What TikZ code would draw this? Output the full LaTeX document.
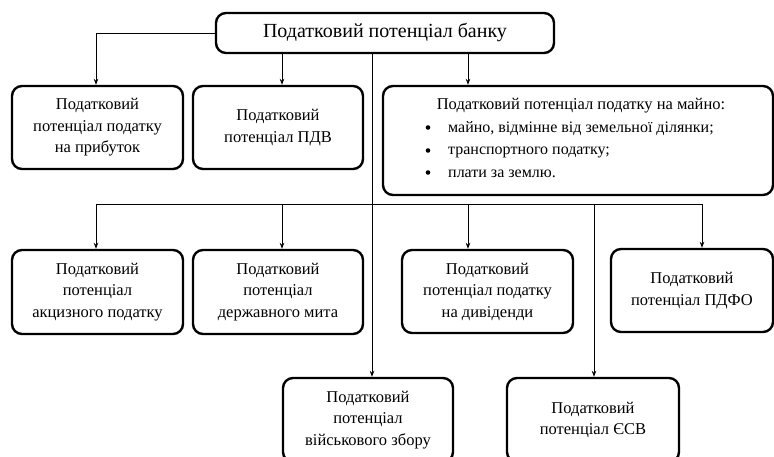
\documentclass[tikz,border=0pt]{standalone}
\usepackage{fontspec}
\setmainfont{Liberation Serif}
\usetikzlibrary{arrows.meta}
\begin{document}
\begin{tikzpicture}[x=1pt,y=-1pt,
  box/.style={draw, line width=2.4pt, rounded corners=10pt, align=center, inner sep=0pt,
    font=\fontsize{16.5}{21.5}\selectfont},
  txt/.style={inner sep=0pt, font=\fontsize{16.5}{21.5}\selectfont},
  itm/.style={inner sep=0pt, anchor=west, font=\fontsize{16}{21}\selectfont},
  dot/.style={circle, fill, inner sep=0pt, minimum size=4.6pt},
  conn/.style={line width=0.8pt},
  arr/.style={conn, -{Stealth[length=6pt,width=4.5pt]}}]
\useasboundingbox (0,0) rectangle (774,457);
\clip (0,0) rectangle (774,457);

\node[box, minimum width=338pt, minimum height=40pt, font=\fontsize{20}{24}\selectfont] (top) at (385,33) {Податковий потенціал банку};

\node[box, minimum width=171pt, minimum height=83pt] (b1) at (97.5,127.5) {Податковий\\потенціал податку\\на прибуток};
\node[box, minimum width=170pt, minimum height=83pt] (b2) at (278,127.5) {Податковий\\потенціал ПДВ};
\node[box, minimum width=390pt, minimum height=109pt] (b3) at (578,140.5) {};
\node[txt] (h3) at (581,106) {Податковий потенціал податку на майно:};
\node[dot] (d1) at (428,127.5) {};
\node[dot] (d2) at (428,150.5) {};
\node[dot] (d3) at (428,172.5) {};
\node[itm] (i1) at (448,129) {майно, відмінне від земельної ділянки;};
\node[itm] (i2) at (448,152) {транспортного податку;};
\node[itm] (i3) at (448,174) {плати за землю.};

\node[box, minimum width=171pt, minimum height=84pt] (b4) at (97.5,292) {Податковий\\потенціал\\акцизного податку};
\node[box, minimum width=170pt, minimum height=84pt] (b5) at (278,292) {Податковий\\потенціал\\державного мита};
\node[box, minimum width=171pt, minimum height=83pt] (b6) at (487.5,291.5) {Податковий\\потенціал податку\\на дивіденди};
\node[box, minimum width=162pt, minimum height=83pt] (b7) at (692,290.5) {Податковий\\потенціал ПДФО};
\node[box, minimum width=170pt, minimum height=84pt] (b8) at (368,420) {Податковий\\потенціал\\військового збору};
\node[box, minimum width=172pt, minimum height=84pt] (b9) at (593,420) {Податковий\\потенціал ЄСВ};

\coordinate (xb) at (282,0);
\coordinate (xc) at (468,0);
\coordinate (xt) at (372,0);
\coordinate (xa) at (96,0);
\coordinate (xd) at (594,0);
\coordinate (xe) at (702,0);
\coordinate (bus) at (0,204);

\draw[arr] (top.west) -| (b1.north -| xa);
\draw[arr] (top.south -| xb) -- (b2.north -| xb);
\draw[arr] (top.south -| xc) -- (b3.north -| xc);
\draw[arr] (top.south -| xt) -- (b8.north -| xt);
\draw[conn] (bus -| xa) -- (bus -| xe);
\draw[arr] (bus -| xa) -- (b4.north -| xa);
\draw[arr] (bus -| xb) -- (b5.north -| xb);
\draw[arr] (bus -| xc) -- (b6.north -| xc);
\draw[arr] (bus -| xe) -- (b7.north -| xe);
\draw[arr] (bus -| xd) -- (b9.north -| xd);
\end{tikzpicture}
\end{document}
